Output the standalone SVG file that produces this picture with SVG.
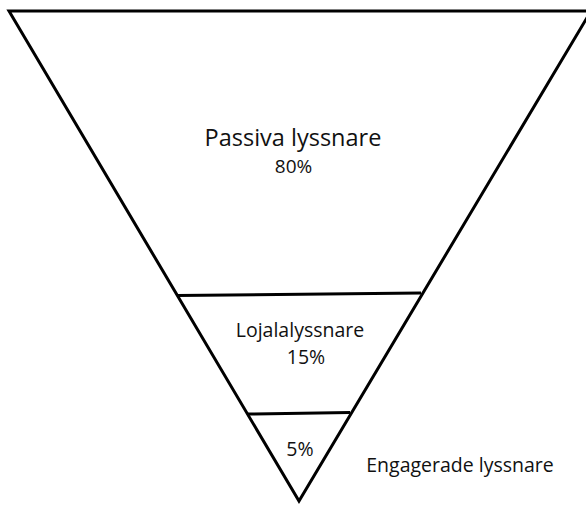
<svg xmlns="http://www.w3.org/2000/svg" width="586" height="505" viewBox="0 0 586 505">
<style>
.ln{stroke:#000;stroke-width:3;fill:none;stroke-linejoin:miter}
.t{font-family:"Open Sans","Liberation Sans",sans-serif;fill:#111;text-anchor:middle;font-size:19.5px}
</style>
<rect width="586" height="505" fill="#fff"/>
<g id="funnel">
<polygon class="ln" points="9,11 591,11 299,501"/>
</g>
<g id="connectors">
<line class="ln" x1="177" y1="295.5" x2="421" y2="293"/>
<line class="ln" x1="248" y1="414" x2="350" y2="412.5"/>
</g>
<g id="passiva">
<text class="t" x="293" y="146" style="font-size:23.5px">Passiva lyssnare</text>
<text class="t" x="293.5" y="173" style="font-size:19px">80%</text>
</g>
<g id="lojala">
<text class="t" x="300" y="337">Lojalalyssnare</text>
<text class="t" x="306" y="364">15%</text>
</g>
<g id="engagerade">
<text class="t" x="300" y="456">5%</text>
<text class="t" x="460" y="472">Engagerade lyssnare</text>
</g>
</svg>
